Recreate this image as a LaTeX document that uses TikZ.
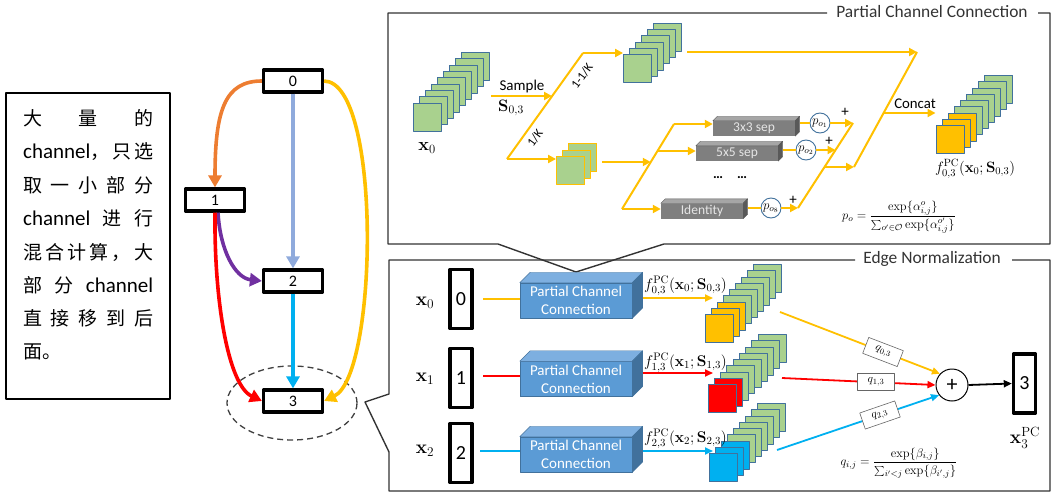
\documentclass[tikz,border=0pt]{standalone}
\usepackage{fix-cm}
\usepackage[no-math]{fontspec}
\setmainfont{Carlito}
\newfontfamily\cjk{Noto Sans CJK SC}
\usetikzlibrary{arrows.meta,calc,shapes.geometric}
\definecolor{cyel}{HTML}{FFC000}
\definecolor{corg}{HTML}{ED7D31}
\definecolor{clb}{HTML}{8FAADC}
\definecolor{cpur}{HTML}{7030A0}
\definecolor{cred}{HTML}{FF0000}
\definecolor{ccy}{HTML}{00B0F0}
\definecolor{cgrn}{HTML}{A9D18E}
\definecolor{cbdr}{HTML}{41719C}
\definecolor{cpcc}{HTML}{5B9BD5}
\definecolor{cpcctop}{HTML}{7DAFE0}
\definecolor{cpccside}{HTML}{41719C}
\definecolor{cgry}{HTML}{7F7F7F}
\definecolor{cgrytop}{HTML}{A6A6A6}
\definecolor{cgryside}{HTML}{595959}
\newcommand\zhtxt[1]{{\cjk #1}}
\newcommand\fsz[1]{\fontsize{#1}{#1}\selectfont}
% stack of squares: name, x, y, dx, dy, last index, last coloured index, colour
\newcommand\sqstack[8]{%
  \foreach \i in {#6,...,0}{%
    \pgfmathsetmacro\sqx{#2+\i*#4}\pgfmathsetmacro\sqy{#3+\i*#5}%
    \ifnum\i>#7 \node[sq,fill=cgrn] (#1-\i) at (\sqx,\sqy) {};\else\node[sq,fill=#8] (#1-\i) at (\sqx,\sqy) {};\fi
  }}
% 3D faces of a box node: node, depth, top colour, side colour
\newcommand\boxfaces[4]{%
  \filldraw[fill=#3,draw=#4,line width=0.4pt] (#1.north west) -- ++(#2,-#2) -- ($(#1.north east)+(#2,-#2)$) -- (#1.north east) -- cycle;
  \filldraw[fill=#4,draw=#4,line width=0.4pt] (#1.north east) -- ++(#2,-#2) -- ($(#1.south east)+(#2,-#2)$) -- (#1.south east) -- cycle;}
\begin{document}
\begin{tikzpicture}[x=1pt,y=-1pt,line join=round,
  gnode/.style={draw,line width=3.2pt,minimum width=59pt,minimum height=22pt,inner sep=0pt,font=\fsz{16}},
  tallbox/.style={draw,line width=3.4pt,minimum width=22pt,minimum height=59pt,inner sep=0pt,font=\fsz{20}},
  gedge/.style={line width=3.6pt,-{Triangle[length=12pt,width=13pt]}},
  ya/.style={cyel,line width=2pt,-{Triangle[length=8pt,width=8pt]}},
  yl/.style={cyel,line width=2pt},
  oa/.style={line width=1.8pt,-{Triangle[length=8pt,width=7pt]}},
  sq/.style={minimum size=28pt,inner sep=0pt,draw=cbdr,line width=0.9pt},
  gbox/.style={fill=cgry,minimum width=82pt,minimum height=15pt,inner sep=0pt,text=white!90!black,font=\fsz{13.5}},
  pccbox/.style={fill=cpcc,draw=cbdr,line width=0.5pt,minimum width=112pt,minimum height=35pt,inner sep=0pt,align=center,text=white,font=\fontsize{15}{18}\selectfont},
  pcirc/.style={circle,draw=cbdr,line width=0.9pt,fill=white,minimum size=20pt,inner sep=0pt,font=\fsz{13}},
  qbox/.style={draw=black!60,fill=white,line width=0.6pt,minimum width=37pt,minimum height=17pt,inner sep=0pt,font=\fsz{11.5}},
  frame/.style={line width=1.4pt,black!80},
  ttl/.style={font=\fsz{17.4},text=black!80},
  lbl/.style={inner sep=0pt},
  tline/.style={anchor=west,inner sep=0pt,font=\fsz{19}},
]
\useasboundingbox (0,0) rectangle (1057,500);

% ---------- frames ----------
\draw[frame] (827,13) -- (388,13) -- (388,244) -- (498,244) -- (576,272) -- (664,244) -- (1050,244) -- (1050,13) -- (1038,13);
\node[ttl] (tpcc) at (932,12) {Partial Channel Connection};
\draw[frame] (855,260) -- (389,260) -- (389,394) -- (365,402) -- (389,452) -- (389,491) -- (1050,491) -- (1050,260) -- (1012,260);
\node[ttl] (ten) at (932,259) {Edge Normalization};

% ---------- left text box ----------
\node[draw,line width=1.5pt,minimum width=164pt,minimum height=306pt,inner sep=0pt] (tbox) at (88,246) {};
\node[tline] (t1) at (23,118) {\hbox to 130pt{\zhtxt{大}\hfill\zhtxt{量}\hfill\zhtxt{的}}};
\node[tline] (t2) at (23,152) {\hbox to 130pt{{\fsz{21}channel}\zhtxt{，}\hfill\zhtxt{只}\hfill\zhtxt{选}}};
\node[tline] (t3) at (23,185) {\hbox to 130pt{\zhtxt{取}\hfill\zhtxt{一}\hfill\zhtxt{小}\hfill\zhtxt{部}\hfill\zhtxt{分}}};
\node[tline] (t4) at (23,218) {\hbox to 130pt{{\fsz{21}channel}\hfill\zhtxt{进}\hfill\zhtxt{行}}};
\node[tline] (t5) at (23,252) {\hbox to 130pt{\zhtxt{混}\hfill\zhtxt{合}\hfill\zhtxt{计}\hfill\zhtxt{算}\hfill\zhtxt{，}\hfill\zhtxt{大}}};
\node[tline] (t6) at (23,285) {\hbox to 130pt{\zhtxt{部}\hfill\zhtxt{分}\hfill{\fsz{21}channel}}};
\node[tline] (t7) at (23,318) {\hbox to 130pt{\zhtxt{直}\hfill\zhtxt{接}\hfill\zhtxt{移}\hfill\zhtxt{到}\hfill\zhtxt{后}}};
\node[tline] (t8) at (23,352) {\zhtxt{面。}};

% ---------- graph ----------
\node[ellipse,draw=black!75,dash pattern=on 6pt off 4pt,line width=1.3pt,minimum width=130pt,minimum height=74pt] (ell) at (292,403) {};
\node[gnode] (n0) at (293,81) {0};
\node[gnode] (n1) at (215,200) {1};
\node[gnode] (n2) at (293,281) {2};
\node[gnode] (n3) at (293,401) {3};
\draw[gedge,corg] (n0.west) .. controls (225,81) and (215,110) .. (n1.north);
\draw[gedge,clb] (n0.south) -- (n2.north);
\draw[gedge,cyel] (n0.east) .. controls (382,82) and (378,375) .. (n3.east);
\draw[gedge,cpur] ([xshift=3pt]n1.south) .. controls (220,250) and (235,278) .. (n2.west);
\draw[gedge,cred] (n1.south) .. controls (214,300) and (228,385) .. (n3.west);
\draw[gedge,ccy] (n2.south) -- (n3.north);

% ---------- top panel ----------
\sqstack{xa}{427.5}{117}{6}{-6.3}{8}{-1}{cgrn}
\node[lbl,font=\fsz{18}] (lx0) at (427,148) {$\mathbf{x}_0$};
\coordinate (sa) at (491,96);
\coordinate (sj) at (552,96);
\coordinate (d1) at (507,159);
\coordinate (d2) at (583,53);
\draw[ya] (sa) -- (sj);
\node[lbl,font=\fsz{15}] (lsmp) at (522,87) {Sample};
\node[lbl,font=\fsz{16.5}] (lS03) at (511,108) {$\mathbf{S}_{0,3}$};
\sqstack{tsk}{637.5}{68.5}{6}{-6.2}{5}{-1}{cgrn}
\foreach \i in {2,1,0} {\node[sq,draw=cyel,fill=cgrn] (ssk-\i) at ({570.5+\i*6},{170.5-\i*6.5}) {};}
\draw[yl] (d1) -- (d2);
\draw[ya] (d2) -- (d2 -| tsk-0.west);
\draw[ya] (d1) -- (d1 -| ssk-0.west);
\node[lbl,font=\fsz{12.5},rotate=54] (l11k) at (582,76) {1-1/K};
\node[lbl,font=\fsz{12.5},rotate=54] (l1k) at (535,138) {1/K};

% fan 1
\coordinate (f1) at (622,209);
\coordinate (f2) at (674,124);
\coordinate (fj) at (650.75,162);
\coordinate (fm) at (657.5,151);
\coordinate (ss) at (602,162);
\draw[ya] (ss) -- (fj);
\node[gbox] (b33) at (754,128.5) {3x3 sep};
\node[gbox] (b55) at (737,153.5) {5x5 sep};
\node[gbox] (bid) at (702,211) {Identity};
\boxfaces{b33}{4.5}{cgrytop}{cgryside}
\boxfaces{b55}{4.5}{cgrytop}{cgryside}
\boxfaces{bid}{4.5}{cgrytop}{cgryside}
\draw[yl] (f1) -- (f2);
\draw[ya] (f2) -- (f2 -| b33.west);
\draw[ya] (fm) -- (fm -| b55.west);
\draw[ya] (f1) -- (f1 -| bid.west);
\node[lbl,font=\fsz{14}] (dots) at (730,178) {\textbf{\dots\quad\dots}};

% weights
\node[pcirc] (po1) at (820,123) {$p_{o_1}$};
\node[pcirc] (po2) at (806,150) {$p_{o_2}$};
\node[pcirc] (po8) at (771,208) {$p_{o_8}$};
\coordinate (b33r) at ([xshift=4.5pt]b33.east);
\coordinate (b55r) at ([xshift=4.5pt]b55.east);
\coordinate (bidr) at ([xshift=4.5pt]bid.east);
\draw[yl] (b33r |- po1) -- (po1);
\draw[yl] (b55r |- po2) -- (po2);
\draw[yl] (bidr |- po8) -- (po8);
\coordinate (g1) at (798,208);
\coordinate (g2) at (853,123);
\coordinate (g2j) at (835.5,150);
\coordinate (gm) at (824.5,167);
\draw[yl] (g1) -- (g2);
\draw[ya] (po1) -- (g2);
\draw[ya] (po2) -- (g2j);
\draw[ya] (po8) -- (g1);
\node[lbl,font=\fsz{15}] (pl1) at (845,112) {+};
\node[lbl,font=\fsz{15}] (pl2) at (829,141) {+};
\node[lbl,font=\fsz{15}] (pl8) at (793,200) {+};

% concat
\coordinate (c1) at (854,167);
\coordinate (c2) at (917,52);
\coordinate (cj) at (883.6,113);
\coordinate (ls) at (687,52);
\draw[ya] (gm) -- (c1);
\draw[yl] (c1) -- (c2);
\draw[ya] (ls) -- (c2);
\sqstack{rsk}{950}{139.5}{6.1}{-6.25}{8}{2}{cyel}
\draw[ya] (cj) -- (cj -| rsk-0.west);
\node[lbl,font=\fsz{14.8}] (lcc) at (915,104) {Concat};
\node[lbl,font=\fsz{15}] (lf03t) at (975,169) {$f^{\mathrm{PC}}_{0,3}(\mathbf{x}_0;\mathbf{S}_{0,3})$};
\node[lbl,font=\fsz{12.5}] (fpo) at (899,217) {$p_o=\displaystyle\frac{\exp\{\alpha^o_{i,j}\}}{\sum_{o'\in\mathcal{O}}\exp\{\alpha^{o'}_{i,j}\}}$};

% ---------- bottom panel ----------
\node[lbl,font=\fsz{19}] (bx0l) at (425,303) {$\mathbf{x}_0$};
\node[lbl,font=\fsz{19}] (bx1l) at (425,379) {$\mathbf{x}_1$};
\node[lbl,font=\fsz{19}] (bx2l) at (425,451) {$\mathbf{x}_2$};
\node[tallbox] (bx0) at (461,299) {0};
\node[tallbox] (bx1) at (461,378) {1};
\node[tallbox] (bx2) at (461,453) {2};
\node[pccbox] (pc0) at (576,300.5) {Partial Channel\\Connection};
\node[pccbox] (pc1) at (576,379) {Partial Channel\\Connection};
\node[pccbox] (pc2) at (576,454.5) {Partial Channel\\Connection};
\boxfaces{pc0}{10.5}{cpcctop}{cpccside}
\boxfaces{pc1}{10.5}{cpcctop}{cpccside}
\boxfaces{pc2}{10.5}{cpcctop}{cpccside}
\coordinate (i0) at (483,299);
\coordinate (i1) at (483,376);
\coordinate (i2) at (480,451);
\draw[cyel,line width=1.6pt] (i0) -- (i0 -| pc0.west);
\draw[cred,line width=1.6pt] (i1) -- (i1 -| pc1.west);
\draw[ccy,line width=1.6pt] (i2) -- (i2 -| pc2.west);

\sqstack{os0}{719.5}{328.5}{6}{-6.25}{8}{2}{cyel}
\sqstack{os1}{722}{398.5}{6.25}{-6.25}{8}{1}{cred}
\sqstack{os2}{723}{467.5}{6.1}{-6.25}{8}{2}{ccy}

\coordinate (o0s) at (643,298); \coordinate (o0e) at (713,298);
\coordinate (o1s) at (643,373); \coordinate (o1e) at (713,373);
\coordinate (o2s) at (643,451); \coordinate (o2e) at (713,451);
\draw[oa,cyel] (o0s) -- (o0e);
\draw[oa,cred] (o1s) -- (o1e);
\draw[oa,ccy] (o2s) -- (o2e);
\node[lbl,font=\fsz{15.5},anchor=west] (lf0) at (644,286) {$f^{\mathrm{PC}}_{0,3}(\mathbf{x}_0;\mathbf{S}_{0,3})$};
\node[lbl,font=\fsz{15.5},anchor=west] (lf1) at (644,363) {$f^{\mathrm{PC}}_{1,3}(\mathbf{x}_1;\mathbf{S}_{1,3})$};
\node[lbl,font=\fsz{15.5},anchor=west] (lf2) at (644,439) {$f^{\mathrm{PC}}_{2,3}(\mathbf{x}_2;\mathbf{S}_{2,3})$};

\node[circle,draw,line width=1pt,minimum size=32pt,inner sep=0pt,font=\fsz{22}] (pl) at (952,385) {+};
\coordinate (ly0) at (780,312);
\coordinate (lr0) at (782,378);
\coordinate (lb0) at (777,450);
\draw[oa,cyel] (ly0) -- (pl.137);
\draw[oa,cred] (lr0) -- (pl.west);
\draw[oa,ccy] (lb0) -- (pl.218);
\node[qbox,rotate=-21] (q03) at (883,352) {$q_{0,3}$};
\node[qbox] (q13) at (876,382) {$q_{1,3}$};
\node[qbox,rotate=19] (q23) at (880,415) {$q_{2,3}$};
\node[tallbox] (b3) at (1024.5,383.5) {3};
\draw[oa,black] (pl.east) -- (b3.west);
\node[lbl,font=\fsz{19}] (lx3) at (1025,438) {$\mathbf{x}_3^{\mathrm{PC}}$};
\node[lbl,font=\fsz{12.5}] (fq) at (899,463) {$q_{i,j}=\displaystyle\frac{\exp\{\beta_{i,j}\}}{\sum_{i'<j}\exp\{\beta_{i',j}\}}$};
\end{tikzpicture}
\end{document}
